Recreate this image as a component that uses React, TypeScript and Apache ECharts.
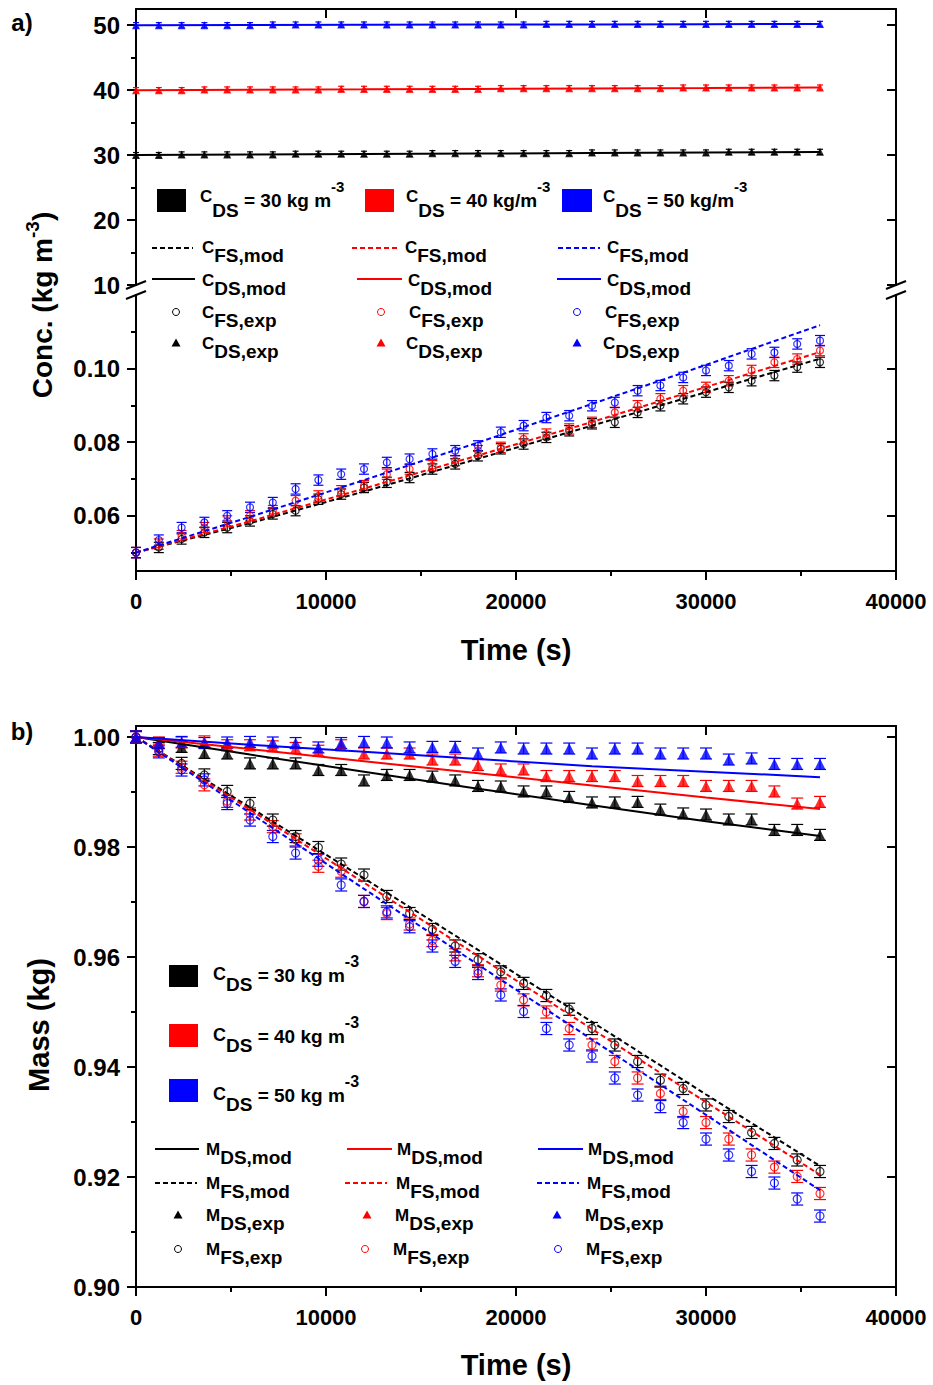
import React, { useEffect, useRef } from "react";
import * as echarts from "echarts";

// ---------- DATA ----------
const T_EXP = [0, 1200, 2400, 3600, 4800, 6000, 7200, 8400, 9600, 10800, 12000, 13200, 14400, 15600, 16800, 18000, 19200, 20400, 21600, 22800, 24000, 25200, 26400, 27600, 28800, 30000, 31200, 32400, 33600, 34800, 36000];
const T_MOD = [0, 6000, 12000, 18000, 24000, 30000, 36000];

// Panel a, upper part: draw solution concentration C_DS (kg m-3)
const A_CDS_EXP_30 = [30.0, 30.0, 30.1, 30.1, 30.1, 30.1, 30.1, 30.2, 30.2, 30.2, 30.2, 30.2, 30.2, 30.3, 30.3, 30.3, 30.3, 30.3, 30.3, 30.3, 30.4, 30.4, 30.4, 30.4, 30.4, 30.4, 30.5, 30.5, 30.5, 30.5, 30.5];
const A_CDS_EXP_40 = [40.0, 40.0, 40.0, 40.1, 40.1, 40.1, 40.1, 40.1, 40.1, 40.2, 40.2, 40.2, 40.2, 40.2, 40.2, 40.2, 40.3, 40.3, 40.3, 40.3, 40.3, 40.3, 40.3, 40.3, 40.4, 40.4, 40.4, 40.4, 40.4, 40.4, 40.4];
const A_CDS_EXP_50 = [50.0, 50.0, 50.0, 50.0, 50.0, 50.0, 50.1, 50.1, 50.1, 50.1, 50.1, 50.1, 50.1, 50.1, 50.1, 50.1, 50.1, 50.1, 50.2, 50.2, 50.2, 50.2, 50.2, 50.2, 50.2, 50.2, 50.2, 50.2, 50.2, 50.2, 50.2];
const A_CDS_MOD_30 = [30.0, 30.08, 30.16, 30.24, 30.32, 30.4, 30.48];
const A_CDS_MOD_40 = [40.0, 40.07, 40.13, 40.2, 40.27, 40.33, 40.4];
const A_CDS_MOD_50 = [50.0, 50.03, 50.07, 50.1, 50.13, 50.17, 50.2];
const A_CDS_ERR = 0.4;

// Panel a, lower part: feed solution concentration C_FS (kg m-3)
const A_CFS_EXP_30 = [0.05, 0.0514, 0.0537, 0.0555, 0.0568, 0.0586, 0.0605, 0.0614, 0.0645, 0.0659, 0.0677, 0.0691, 0.0704, 0.0727, 0.0741, 0.0763, 0.0782, 0.0795, 0.0813, 0.0831, 0.085, 0.0854, 0.0881, 0.0899, 0.0918, 0.0936, 0.0949, 0.0967, 0.0981, 0.1004, 0.1017];
const A_CFS_EXP_40 = [0.05, 0.0523, 0.0546, 0.0568, 0.0586, 0.06, 0.0614, 0.0641, 0.0654, 0.0668, 0.0682, 0.0713, 0.0727, 0.0736, 0.075, 0.0777, 0.0786, 0.0809, 0.0822, 0.0836, 0.0854, 0.0881, 0.0899, 0.0918, 0.094, 0.0949, 0.0967, 0.0995, 0.1017, 0.1026, 0.1049];
const A_CFS_EXP_50 = [0.05, 0.0534, 0.0568, 0.0582, 0.06, 0.0623, 0.0636, 0.0673, 0.0697, 0.0713, 0.0727, 0.0745, 0.0754, 0.0768, 0.0777, 0.079, 0.0827, 0.0845, 0.0867, 0.0872, 0.0899, 0.0908, 0.094, 0.0954, 0.0976, 0.0995, 0.1008, 0.104, 0.1044, 0.1067, 0.1076];
const A_CFS_MOD_30 = [0.05, 0.058, 0.0666, 0.0755, 0.0845, 0.0936, 0.1027];
const A_CFS_MOD_40 = [0.05, 0.0585, 0.0674, 0.0764, 0.0855, 0.095, 0.1045];
const A_CFS_MOD_50 = [0.05, 0.0597, 0.0697, 0.0799, 0.0904, 0.101, 0.1118];
const A_CFS_ERR = 0.0014;

// Panel b: masses (kg)
const B_MDS_EXP_30 = [1.0, 0.9989, 0.9982, 0.9971, 0.997, 0.9952, 0.9952, 0.9952, 0.994, 0.994, 0.9921, 0.9931, 0.9931, 0.9928, 0.9921, 0.9911, 0.991, 0.9901, 0.9901, 0.9891, 0.9881, 0.9881, 0.9882, 0.9868, 0.9861, 0.9859, 0.985, 0.985, 0.9831, 0.9831, 0.9822];
const B_MDS_EXP_40 = [1.0, 0.999, 0.999, 0.9992, 0.9985, 0.9985, 0.9983, 0.998, 0.9975, 0.9985, 0.997, 0.997, 0.997, 0.9959, 0.9959, 0.9949, 0.9941, 0.9941, 0.9929, 0.9929, 0.9929, 0.9929, 0.992, 0.992, 0.992, 0.9911, 0.9911, 0.9911, 0.9901, 0.9879, 0.9882];
const B_MDS_EXP_50 = [1.0, 0.9989, 0.9991, 0.9989, 0.999, 0.9991, 0.999, 0.9989, 0.9981, 0.9989, 0.9991, 0.999, 0.9981, 0.9982, 0.9982, 0.997, 0.9981, 0.9979, 0.9979, 0.9979, 0.997, 0.9979, 0.9979, 0.997, 0.997, 0.997, 0.9959, 0.9961, 0.9951, 0.9951, 0.9951];
const B_MFS_EXP_30 = [1.0, 0.9979, 0.9952, 0.9931, 0.9901, 0.9879, 0.9849, 0.9819, 0.9799, 0.9769, 0.9749, 0.971, 0.9679, 0.965, 0.962, 0.9595, 0.9573, 0.9552, 0.953, 0.9505, 0.947, 0.944, 0.941, 0.9376, 0.9361, 0.9331, 0.931, 0.9281, 0.9261, 0.9231, 0.921];
const B_MFS_EXP_40 = [1.0, 0.9976, 0.9945, 0.9913, 0.9883, 0.986, 0.9837, 0.9813, 0.9765, 0.9756, 0.9701, 0.9679, 0.966, 0.963, 0.9604, 0.9575, 0.9549, 0.9522, 0.95, 0.947, 0.944, 0.941, 0.938, 0.9352, 0.9319, 0.9299, 0.9269, 0.924, 0.9218, 0.9201, 0.917];
const B_MFS_EXP_50 = [1.0, 0.9973, 0.994, 0.9922, 0.9879, 0.9849, 0.9819, 0.9789, 0.9776, 0.9731, 0.9701, 0.9682, 0.9655, 0.962, 0.9592, 0.957, 0.9531, 0.9501, 0.947, 0.944, 0.942, 0.938, 0.9349, 0.9328, 0.9299, 0.9269, 0.924, 0.921, 0.9189, 0.916, 0.9129];
const B_MDS_MOD_30 = [1.0, 0.9968, 0.9937, 0.9906, 0.9876, 0.9847, 0.982];
const B_MDS_MOD_40 = [1.0, 0.9978, 0.9956, 0.9934, 0.9912, 0.989, 0.9869];
const B_MDS_MOD_50 = [1.0, 0.9986, 0.9973, 0.996, 0.9947, 0.9937, 0.9927];
const B_MFS_MOD_30 = [1.0, 0.9872, 0.9743, 0.9613, 0.9482, 0.935, 0.922];
const B_MFS_MOD_40 = [1.0, 0.9868, 0.9735, 0.9602, 0.9469, 0.9336, 0.9204];
const B_MFS_MOD_50 = [1.0, 0.9862, 0.9724, 0.9586, 0.945, 0.9313, 0.9176];
const B_MDS_ERR = 0.001;
const B_MFS_ERR = 0.0011;

// Tick values
const X_TICKS = [0, 10000, 20000, 30000, 40000];
const A_TOP_MAJOR = [10, 20, 30, 40, 50];
const A_TOP_MINOR = [15, 25, 35, 45];
const A_BOT_MAJOR = [0.06, 0.08, 0.1];
const A_BOT_MINOR = [0.05, 0.07, 0.09, 0.11];
const B_MAJOR = [0.9, 0.92, 0.94, 0.96, 0.98, 1.0];
const B_MINOR = [0.91, 0.93, 0.95, 0.97, 0.99];

// ---------- STYLE ----------
const K = "#000000";
const R = "#ff0000";
const BL = "#0000ff";
const FF = '"Liberation Sans", Arial, Helvetica, sans-serif';
const BOLD = { fontFamily: FF, fontWeight: "bold" as const };
const TL = { color: "#000", width: 2 };

function errSeries(xi: number, yi: number, v: number[], e: number, color: string, cap: number) {
  return {
    type: "custom",
    xAxisIndex: xi,
    yAxisIndex: yi,
    silent: true,
    z: 2,
    data: T_EXP.map((t, i) => [t, v[i] - e, v[i] + e]),
    renderItem: (_p: any, api: any) => {
      const lo = api.coord([api.value(0), api.value(1)]);
      const hi = api.coord([api.value(0), api.value(2)]);
      const st = { stroke: color, lineWidth: 1.2 };
      return {
        type: "group",
        children: [
          { type: "line", shape: { x1: lo[0], y1: lo[1], x2: hi[0], y2: hi[1] }, style: st },
          { type: "line", shape: { x1: lo[0] - cap, y1: lo[1], x2: lo[0] + cap, y2: lo[1] }, style: st },
          { type: "line", shape: { x1: hi[0] - cap, y1: hi[1], x2: hi[0] + cap, y2: hi[1] }, style: st },
        ],
      };
    },
  };
}

function pts(xi: number, yi: number, v: number[], color: string, symbol: string, size: number) {
  return {
    type: "scatter",
    xAxisIndex: xi,
    yAxisIndex: yi,
    silent: true,
    z: 3,
    symbol,
    symbolSize: size,
    data: T_EXP.map((t, i) => [t, v[i]]),
    itemStyle:
      symbol === "circle"
        ? { color: "rgba(255,255,255,0)", borderColor: color, borderWidth: 1.2 }
        : { color },
  };
}

function model(xi: number, yi: number, v: number[], color: string, dashed: boolean) {
  return {
    type: "line",
    xAxisIndex: xi,
    yAxisIndex: yi,
    silent: true,
    z: 4,
    showSymbol: false,
    symbol: "none",
    data: T_MOD.map((t, i) => [t, v[i]]),
    lineStyle: { color, width: 2, type: dashed ? [5, 3] : "solid" },
  };
}

function yAxes(grid: number, min: number, max: number, major: number[], minor: number[], fmt: (v: number) => string) {
  return [
    {
      gridIndex: grid, type: "value", position: "left", min, max,
      axisLine: { show: true, onZero: false, lineStyle: TL },
      axisTick: { show: true, length: 9, lineStyle: TL, customValues: major },
      axisLabel: { show: true, ...BOLD, fontSize: 24, color: "#000", margin: 16, customValues: major, formatter: fmt },
      splitLine: { show: false },
    },
    {
      gridIndex: grid, type: "value", position: "left", min, max,
      axisLine: { show: false, onZero: false },
      axisTick: { show: true, length: 5, lineStyle: TL, customValues: minor },
      axisLabel: { show: false },
      splitLine: { show: false },
    },
    {
      gridIndex: grid, type: "value", position: "right", min, max,
      axisLine: { show: true, onZero: false, lineStyle: TL },
      axisTick: { show: true, inside: true, length: 9, lineStyle: TL, customValues: major },
      axisLabel: { show: false },
      splitLine: { show: false },
    },
  ];
}

function xBottom(grid: number) {
  return {
    gridIndex: grid, type: "value", position: "bottom", min: 0, max: 40000, interval: 10000,
    axisLine: { show: true, onZero: false, lineStyle: TL },
    axisTick: { show: true, length: 9, lineStyle: TL },
    minorTick: { show: true, splitNumber: 2, length: 5, lineStyle: TL },
    axisLabel: {
      show: true, ...BOLD, fontSize: 22, color: "#000", margin: 19, customValues: X_TICKS,
      formatter: (v: number) => String(Math.round(v)),
    },
    splitLine: { show: false },
  };
}
function xTop(grid: number) {
  return {
    gridIndex: grid, type: "value", position: "top", min: 0, max: 40000, interval: 10000,
    axisLine: { show: true, onZero: false, lineStyle: TL },
    axisTick: { show: true, inside: true, length: 9, lineStyle: TL },
    axisLabel: { show: false },
    splitLine: { show: false },
  };
}

// rich text styles
const RICH_SUB = {
  m: { ...BOLD, fontSize: 17, padding: [0, 0, 6, 0] },
  s: { ...BOLD, fontSize: 19, padding: [10, 0, 0, 0] },
};
const RICH_CA = {
  m: { ...BOLD, fontSize: 17, padding: [0, 0, 8, 0] },
  s: { ...BOLD, fontSize: 19, padding: [20, 0, 0, 0] },
  t: { ...BOLD, fontSize: 19 },
  p: { ...BOLD, fontSize: 15, padding: [0, 0, 28, 0] },
};
const RICH_CB = {
  m: { ...BOLD, fontSize: 18, padding: [0, 0, 3, 0] },
  s: { ...BOLD, fontSize: 19, padding: [18, 0, 0, 0] },
  t: { ...BOLD, fontSize: 19 },
  p: { ...BOLD, fontSize: 16, padding: [0, 0, 28, 0] },
};

function txt(x: number, y: number, text: string, rich: any, extra: any = {}) {
  return {
    type: "text", x, y, silent: true,
    style: { text, rich, align: "left", verticalAlign: "middle", fill: "#000", ...BOLD, fontSize: 18, ...extra },
  };
}
function rect(x: number, y: number, w: number, h: number, c: string) {
  return { type: "rect", silent: true, shape: { x, y, width: w, height: h }, style: { fill: c } };
}
function seg(x1: number, y1: number, x2: number, y2: number, c: string, dashed = false, w = 2) {
  return { type: "line", silent: true, shape: { x1, y1, x2, y2 }, style: { stroke: c, lineWidth: w, lineDash: dashed ? [5, 3] : null } };
}
function circ(cx: number, cy: number, c: string) {
  return { type: "circle", silent: true, shape: { cx, cy, r: 3.5 }, style: { fill: "none", stroke: c, lineWidth: 1 } };
}
function tri(x: number, y: number, c: string) {
  return { type: "polygon", silent: true, shape: { points: [[x, y - 4.5], [x - 4.5, y + 3.5], [x + 4.5, y + 3.5]] }, style: { fill: c } };
}

function buildGraphic() {
  const g: any[] = [];
  // panel labels
  g.push(txt(22, 22, "a)", null, { align: "center", fontSize: 24 }));
  g.push(txt(22, 731, "b)", null, { align: "center", fontSize: 24 }));
  // axis titles
  g.push(txt(516, 650, "Time (s)", null, { align: "center", fontSize: 29 }));
  g.push(txt(516, 1365, "Time (s)", null, { align: "center", fontSize: 29 }));
  g.push({
    type: "text", x: 42, y: 305, rotation: Math.PI / 2, silent: true,
    style: {
      text: "{t|Conc. (kg m}{p|-3}{t|)}", align: "center", verticalAlign: "middle", fill: "#000",
      rich: { t: { ...BOLD, fontSize: 28 }, p: { ...BOLD, fontSize: 19, padding: [0, 0, 20, 0] } },
    },
  });
  g.push({
    type: "text", x: 39, y: 1025, rotation: Math.PI / 2, silent: true,
    style: { text: "Mass (kg)", align: "center", verticalAlign: "middle", fill: "#000", ...BOLD, fontSize: 29 },
  });
  // axis breaks
  g.push(seg(126, 289, 146, 281, K), seg(126, 299, 146, 291, K));
  g.push(seg(886, 289, 906, 281, K), seg(886, 299, 906, 291, K));

  // panel a legend
  g.push(rect(157, 189, 29, 23, K), rect(365, 189, 29, 23, R), rect(562, 189, 30, 23, BL));
  g.push(txt(200, 200, "{m|C}{s|DS}{t| = 30 kg m}{p|-3}", RICH_CA));
  g.push(txt(406, 200, "{m|C}{s|DS}{t| = 40 kg/m}{p|-3}", RICH_CA));
  g.push(txt(603, 200, "{m|C}{s|DS}{t| = 50 kg/m}{p|-3}", RICH_CA));
  g.push(seg(152, 248, 193, 248, K, true), seg(352, 248, 397, 248, R, true), seg(558, 248, 600, 248, BL, true));
  g.push(txt(202, 250, "{m|C}{s|FS,mod}", RICH_SUB), txt(405, 250, "{m|C}{s|FS,mod}", RICH_SUB), txt(607, 250, "{m|C}{s|FS,mod}", RICH_SUB));
  g.push(seg(152, 279, 195, 279, K), seg(357, 279, 402, 279, R), seg(557, 279, 601, 279, BL));
  g.push(txt(202, 283, "{m|C}{s|DS,mod}", RICH_SUB), txt(408, 283, "{m|C}{s|DS,mod}", RICH_SUB), txt(607, 283, "{m|C}{s|DS,mod}", RICH_SUB));
  g.push(circ(176, 312, K), circ(381, 312, R), circ(577, 312, BL));
  g.push(txt(202, 315, "{m|C}{s|FS,exp}", RICH_SUB), txt(409, 315, "{m|C}{s|FS,exp}", RICH_SUB), txt(605, 315, "{m|C}{s|FS,exp}", RICH_SUB));
  g.push(tri(176, 343, K), tri(381, 343, R), tri(577, 343, BL));
  g.push(txt(202, 346, "{m|C}{s|DS,exp}", RICH_SUB), txt(406, 346, "{m|C}{s|DS,exp}", RICH_SUB), txt(603, 346, "{m|C}{s|DS,exp}", RICH_SUB));

  // panel b legend
  g.push(rect(169, 965, 29, 22, K), rect(169, 1024, 29, 23, R), rect(169, 1079, 29, 23, BL));
  g.push(txt(213, 975, "{m|C}{s|DS}{t| = 30 kg m}{p|-3}", RICH_CB));
  g.push(txt(213, 1036, "{m|C}{s|DS}{t| = 40 kg m}{p|-3}", RICH_CB));
  g.push(txt(213, 1095, "{m|C}{s|DS}{t| = 50 kg m}{p|-3}", RICH_CB));
  g.push(seg(155, 1149, 199, 1149, K), seg(347, 1149, 392, 1149, R), seg(538, 1149, 583, 1149, BL));
  g.push(txt(206, 1152, "{m|M}{s|DS,mod}", RICH_SUB), txt(397, 1152, "{m|M}{s|DS,mod}", RICH_SUB), txt(588, 1152, "{m|M}{s|DS,mod}", RICH_SUB));
  g.push(seg(155, 1183, 197, 1183, K, true), seg(345, 1183, 387, 1183, R, true), seg(537, 1183, 579, 1183, BL, true));
  g.push(txt(206, 1186, "{m|M}{s|FS,mod}", RICH_SUB), txt(396, 1186, "{m|M}{s|FS,mod}", RICH_SUB), txt(587, 1186, "{m|M}{s|FS,mod}", RICH_SUB));
  g.push(tri(178, 1215, K), tri(367, 1215, R), tri(557, 1215, BL));
  g.push(txt(206, 1218, "{m|M}{s|DS,exp}", RICH_SUB), txt(395, 1218, "{m|M}{s|DS,exp}", RICH_SUB), txt(585, 1218, "{m|M}{s|DS,exp}", RICH_SUB));
  g.push(circ(178, 1249, K), circ(365, 1249, R), circ(558, 1249, BL));
  g.push(txt(206, 1252, "{m|M}{s|FS,exp}", RICH_SUB), txt(393, 1252, "{m|M}{s|FS,exp}", RICH_SUB), txt(586, 1252, "{m|M}{s|FS,exp}", RICH_SUB));
  return g;
}

function buildOption(): any {
  const fmtInt = (v: number) => String(Math.round(v));
  const fmt2 = (v: number) => v.toFixed(2);
  const series: any[] = [];
  // panel a upper (xAxis 0, yAxis 0)
  [[A_CDS_EXP_30, A_CDS_MOD_30, K], [A_CDS_EXP_40, A_CDS_MOD_40, R], [A_CDS_EXP_50, A_CDS_MOD_50, BL]].forEach(([e, m, c]: any) => {
    series.push(model(0, 0, m, c, false));
    series.push(errSeries(0, 0, e, A_CDS_ERR, c, 3));
    series.push(pts(0, 0, e, c, "triangle", 8));
  });
  // panel a lower (xAxis 1, yAxis 3)
  [[A_CFS_EXP_30, A_CFS_MOD_30, K], [A_CFS_EXP_40, A_CFS_MOD_40, R], [A_CFS_EXP_50, A_CFS_MOD_50, BL]].forEach(([e, m, c]: any) => {
    series.push(errSeries(1, 3, e, A_CFS_ERR, c, 5));
    series.push(pts(1, 3, e, c, "circle", 7));
    series.push(model(1, 3, m, c, true));
  });
  // panel b (xAxis 2, yAxis 6)
  [[B_MDS_EXP_30, B_MDS_MOD_30, B_MFS_EXP_30, B_MFS_MOD_30, K], [B_MDS_EXP_40, B_MDS_MOD_40, B_MFS_EXP_40, B_MFS_MOD_40, R], [B_MDS_EXP_50, B_MDS_MOD_50, B_MFS_EXP_50, B_MFS_MOD_50, BL]].forEach(([de, dm, fe, fm, c]: any) => {
    series.push(errSeries(2, 6, de, B_MDS_ERR, c, 6));
    series.push(pts(2, 6, de, c, "triangle", 11));
    series.push(errSeries(2, 6, fe, B_MFS_ERR, c, 6));
    series.push(pts(2, 6, fe, c, "circle", 8));
    series.push(model(2, 6, dm, c, false));
    series.push(model(2, 6, fm, c, true));
  });

  return {
    animation: false,
    backgroundColor: "#ffffff",
    grid: [
      { left: 136, right: 37, top: 9, height: 276, containLabel: false, outerBoundsMode: "none" },
      { left: 136, right: 37, top: 295, height: 276, containLabel: false, outerBoundsMode: "none" },
      { left: 136, right: 37, top: 726, height: 561, containLabel: false, outerBoundsMode: "none" },
    ],
    xAxis: [xTop(0), xBottom(1), xBottom(2), xTop(2)],
    yAxis: [
      ...yAxes(0, 10, 52.5, A_TOP_MAJOR, A_TOP_MINOR, fmtInt),
      ...yAxes(1, 0.045, 0.12, A_BOT_MAJOR, A_BOT_MINOR, fmt2),
      ...yAxes(2, 0.9, 1.002, B_MAJOR, B_MINOR, fmt2),
    ],
    series,
    graphic: { elements: buildGraphic() },
  };
}

export default function App() {
  const ref = useRef<HTMLDivElement>(null);
  useEffect(() => {
    const chart = echarts.init(ref.current!, null, { renderer: "svg" });
    chart.setOption(buildOption());
    return () => chart.dispose();
  }, []);
  return (
    <div
      ref={ref}
      style={{ position: "absolute", left: 0, top: 0, width: 933, height: 1385, background: "#fff" }}
    />
  );
}
